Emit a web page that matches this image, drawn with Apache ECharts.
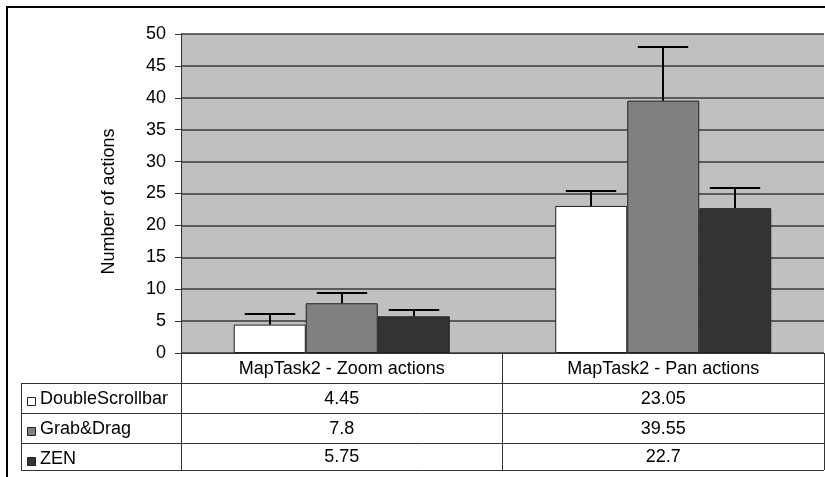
<!DOCTYPE html>
<html><head><meta charset="utf-8">
<script src="https://cdn.jsdelivr.net/npm/echarts@6/dist/echarts.min.js"></script>
<style>html,body{margin:0;padding:0;background:#fff}#c{width:825px;height:477px}</style>
</head><body><div id="c"></div>
<script>
// ---- data ----
const categories = ['MapTask2 - Zoom actions', 'MapTask2 - Pan actions'];
const seriesNames = ['DoubleScrollbar', 'Grab&Drag', 'ZEN'];
const doubleScrollbar = [4.45, 23.05];
const grabDrag = [7.8, 39.55];
const zen = [5.75, 22.7];
const errDoubleScrollbar = [1.6, 2.4];
const errGrabDrag = [1.65, 8.35];
const errZen = [1.05, 3.15];
const yMin = 0, yMax = 50, yStep = 5;
const yTitle = 'Number of actions';

// ---- styling ----
const FONT = "'Liberation Sans', Arial, sans-serif";
const colors = ['#ffffff', '#808080', '#333333'];
const BAR_FRAC = 0.224;
const GRID = {left: 181, right: 1, top: 34, bottom: 124};
const W = 825, H = 477;

const values = [doubleScrollbar, grabDrag, zen];
const errs = [errDoubleScrollbar, errGrabDrag, errZen];

const chart = echarts.init(document.getElementById('c'), null, {renderer: 'canvas'});

function errItem(s) {
  return function (params, api) {
    const ci = api.value(0), v = api.value(1), e = api.value(2);
    const base = api.coord([ci, v]);
    const top = api.coord([ci, v + e]);
    const band = api.size([1, 0])[0];
    const bw = band * BAR_FRAC;
    const x = Math.round(base[0] + (s - 1) * bw);
    const half = bw * 0.35;
    const ty = Math.round(top[1]);
    return {type: 'group', children: [
      {type: 'line', shape: {x1: x, y1: base[1], x2: x, y2: ty}, style: {stroke: '#000', lineWidth: 2}},
      {type: 'line', shape: {x1: x - half, y1: ty, x2: x + half, y2: ty}, style: {stroke: '#000', lineWidth: 2}}
    ]};
  };
}

const series = [];
values.forEach((arr, s) => {
  series.push({
    name: seriesNames[s], type: 'bar', data: arr,
    barWidth: (BAR_FRAC * 100) + '%', barGap: '0%',
    itemStyle: {color: colors[s], borderColor: '#222', borderWidth: 1},
    silent: true, z: 2
  });
});
values.forEach((arr, s) => {
  series.push({
    type: 'custom', renderItem: errItem(s), z: 3, silent: true,
    data: arr.map((v, i) => [i, v, errs[s][i]]),
    encode: {x: 0, y: 1}
  });
});

// table geometry
const axisY = H - GRID.bottom;          // 353
const rowTops = [axisY + 30, axisY + 60, axisY + 90];
const tableBottom = axisY + 117;
const tableLeft = 21;
const graphics = [];
[axisY + 30, axisY + 60, axisY + 90, tableBottom].forEach(y => {
  graphics.push({type: 'line', shape: {x1: tableLeft, y1: y + 0.5, x2: W - 1, y2: y + 0.5},
    style: {stroke: '#333', lineWidth: 1}, z: 10});
});
graphics.push({type: 'line', shape: {x1: tableLeft + 0.5, y1: axisY + 30, x2: tableLeft + 0.5, y2: tableBottom + 1},
  style: {stroke: '#333', lineWidth: 1}, z: 10});
seriesNames.forEach((n, s) => {
  const top = rowTops[s];
  graphics.push({type: 'rect', shape: {x: 27.5, y: top + 14.5, width: 8, height: 8},
    style: {fill: colors[s], stroke: '#222', lineWidth: 1}, z: 10});
  graphics.push({type: 'text', x: 40, y: top + 16,
    style: {text: n, font: '18px ' + FONT, fill: '#000', verticalAlign: 'middle', align: 'left'}, z: 10});
});
// outer frame
graphics.push({type: 'rect', shape: {x: 7, y: 7, width: W + 20, height: H + 20},
  style: {fill: 'none', stroke: '#000', lineWidth: 2}, z: 0});

chart.setOption({
  animation: false,
  backgroundColor: '#fff',
  grid: Object.assign({show: true, backgroundColor: '#c0c0c0', borderWidth: 0, containLabel: false}, GRID),
  xAxis: {
    type: 'category', data: categories, boundaryGap: true,
    axisLine: {show: true, lineStyle: {color: '#333', width: 1}},
    axisTick: {show: true, length: 117, alignWithLabel: false, lineStyle: {color: '#333', width: 1}},
    axisLabel: {
      interval: 0, margin: 1, color: '#000', fontFamily: FONT, verticalAlign: 'top',
      formatter: (val, idx) => '{c|' + val + '}\n{v|' + doubleScrollbar[idx] + '}\n{v|' + grabDrag[idx] + '}\n{w|' + zen[idx] + '}',
      rich: {
        c: {fontSize: 18, lineHeight: 30, fontFamily: FONT, color: '#000'},
        v: {fontSize: 18, lineHeight: 30, fontFamily: FONT, color: '#000'},
        w: {fontSize: 18, lineHeight: 27, fontFamily: FONT, color: '#000'}
      }
    }
  },
  yAxis: {
    type: 'value', min: yMin, max: yMax, interval: yStep,
    name: yTitle, nameLocation: 'middle', nameRotate: 90, nameGap: 63,
    nameTextStyle: {fontSize: 18, fontFamily: FONT, color: '#000', padding: [0, 16, 0, 0]},
    axisLine: {show: true, lineStyle: {color: '#333', width: 1}},
    axisTick: {show: true, length: 6, lineStyle: {color: '#333', width: 1}},
    axisLabel: {fontSize: 18, fontFamily: FONT, color: '#000', margin: 15},
    splitLine: {show: true, lineStyle: {color: '#3a3a3a', width: 1.5}}
  },
  series: series,
  graphic: graphics
});
</script></body></html>
